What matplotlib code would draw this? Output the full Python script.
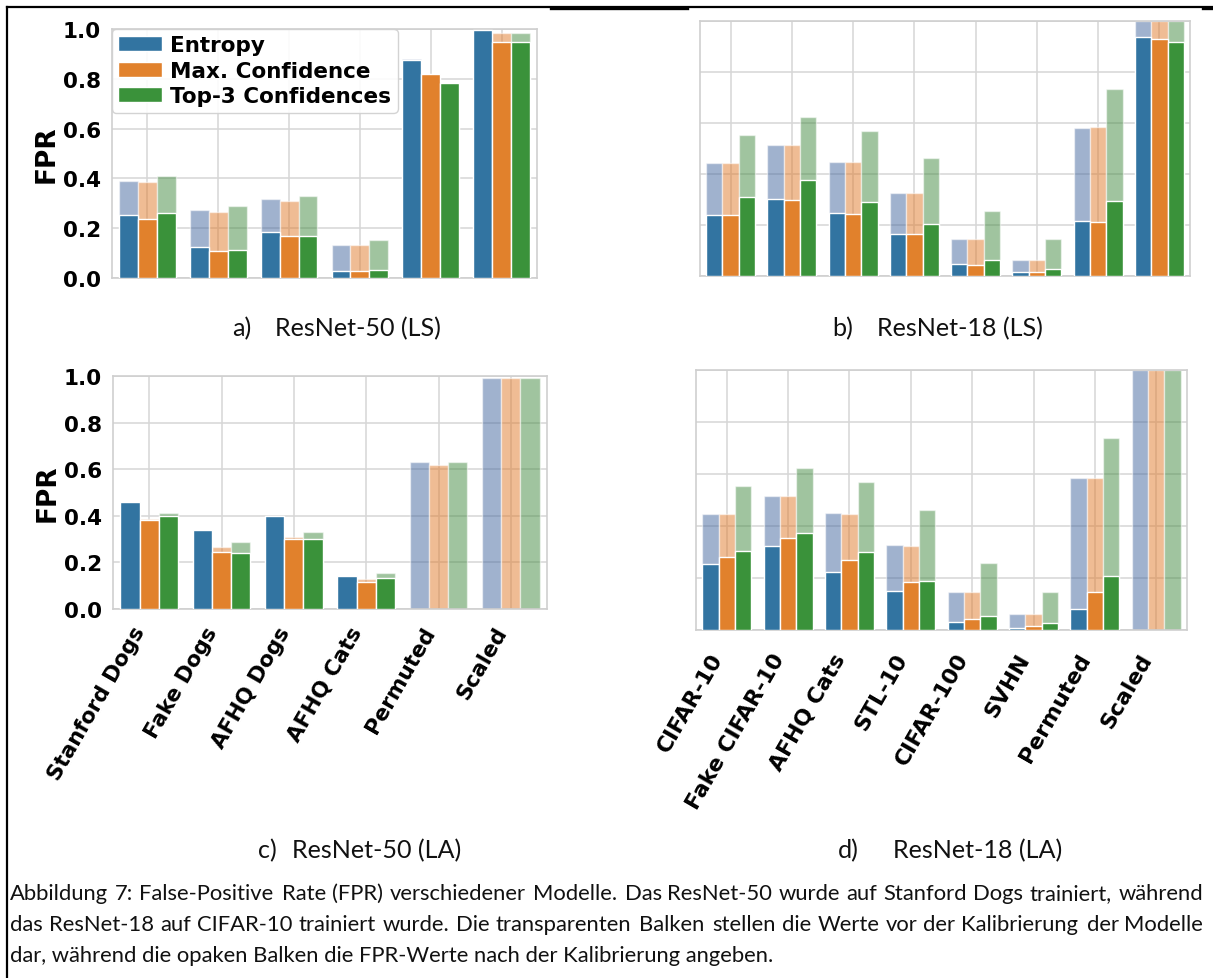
import numpy as np
import matplotlib
matplotlib.use("Agg")
import matplotlib.pyplot as plt
from matplotlib.lines import Line2D
from matplotlib.patches import Patch

# ---------------------------------------------------------------- data
methods = ["Entropy", "Max. Confidence", "Top-3 Confidences"]

r50_datasets = ["Stanford Dogs", "Fake Dogs", "AFHQ Dogs", "AFHQ Cats", "Permuted", "Scaled"]
r18_datasets = ["CIFAR-10", "Fake CIFAR-10", "AFHQ Cats", "STL-10", "CIFAR-100", "SVHN",
                "Permuted", "Scaled"]

# rows: Entropy, Max. Confidence, Top-3 Confidences
# ResNet-50 trained with label smoothing (LS)
r50_ls_before = [[0.391, 0.273, 0.316, 0.132, 0.878, 0.998],
                 [0.387, 0.264, 0.308, 0.131, 0.820, 0.984],
                 [0.411, 0.289, 0.331, 0.153, 0.785, 0.984]]
r50_ls_after = [[0.255, 0.123, 0.185, 0.028, 0.876, 0.995],
                [0.237, 0.108, 0.169, 0.027, 0.818, 0.947],
                [0.263, 0.112, 0.168, 0.031, 0.783, 0.949]]

# ResNet-18 trained with label smoothing (LS)
r18_ls_before = [[0.445, 0.515, 0.448, 0.325, 0.145, 0.061, 0.581, 1.0],
                 [0.445, 0.513, 0.447, 0.324, 0.145, 0.061, 0.583, 1.0],
                 [0.553, 0.624, 0.568, 0.461, 0.256, 0.147, 0.735, 1.0]]
r18_ls_after = [[0.241, 0.303, 0.247, 0.164, 0.047, 0.017, 0.216, 0.936],
                [0.239, 0.299, 0.244, 0.163, 0.045, 0.017, 0.212, 0.928],
                [0.309, 0.376, 0.292, 0.204, 0.064, 0.029, 0.293, 0.916]]

# ResNet-50 trained with LA
r50_la_before = [[0.458, 0.340, 0.399, 0.142, 0.630, 0.990],
                 [0.386, 0.265, 0.309, 0.129, 0.619, 0.990],
                 [0.412, 0.289, 0.331, 0.153, 0.630, 0.990]]
r50_la_after = [[0.458, 0.340, 0.399, 0.142, np.nan, np.nan],
                [0.384, 0.243, 0.299, 0.115, np.nan, np.nan],
                [0.399, 0.240, 0.302, 0.134, np.nan, np.nan]]

# ResNet-18 trained with LA
r18_la_before = [[0.447, 0.516, 0.450, 0.327, 0.146, 0.063, 0.583, 1.0],
                 [0.447, 0.515, 0.448, 0.325, 0.146, 0.063, 0.583, 1.0],
                 [0.554, 0.625, 0.570, 0.463, 0.256, 0.148, 0.737, 1.0]]
r18_la_after = [[0.252, 0.323, 0.224, 0.149, 0.031, 0.009, 0.080, np.nan],
                [0.282, 0.354, 0.271, 0.186, 0.042, 0.016, 0.146, np.nan],
                [0.303, 0.375, 0.301, 0.188, 0.052, 0.027, 0.209, np.nan]]

yticks = [0.0, 0.2, 0.4, 0.6, 0.8, 1.0]

subcaptions = [("a)", "ResNet-50 (LS)"), ("b)", "ResNet-18 (LS)"),
               ("c)", "ResNet-50 (LA)"), ("d)", "ResNet-18 (LA)")]
caption_lines = [
    "Abbildung 7: False-Positive Rate (FPR) verschiedener Modelle. Das ResNet-50 wurde auf Stanford Dogs trainiert, während",
    "das ResNet-18 auf CIFAR-10 trainiert wurde. Die transparenten Balken stellen die Werte vor der Kalibrierung der Modelle",
    "dar, während die opaken Balken die FPR-Werte nach der Kalibrierung angeben.",
]

# ---------------------------------------------------------------- style
W, H, DPI = 1213, 979, 100
after_colors = ["#3274a1", "#e1812c", "#3a923a"]
before_colors = ["#42679e", "#e07b2b", "#428b41"]
before_alpha = 0.5
grid_color = "#d6d6d6"
caption_font = "Lato"

plt.rcParams["font.family"] = ["DejaVu Sans"]
plt.rcParams["font.weight"] = "bold"

fig = plt.figure(figsize=(W / DPI, H / DPI), dpi=DPI)
renderer = fig.canvas.get_renderer()


def add_axes_px(left, top, right, bottom):
    return fig.add_axes([left / W, 1 - bottom / H, (right - left) / W, (bottom - top) / H])


def draw_panel(ax, labels, before, after, tick_fs, show_y, show_x, xpad):
    n = len(labels)
    x = np.arange(n)
    bw = 0.8 / 3
    for i in range(3):
        pos = x + (i - 1) * bw
        ax.bar(pos, before[i], width=bw, color=before_colors[i], alpha=before_alpha,
               edgecolor="white", linewidth=1.0, zorder=2)
        ax.bar(pos, after[i], width=bw, color=after_colors[i],
               edgecolor="white", linewidth=1.0, zorder=3)
    ax.set_xlim(-0.5, n - 0.5)
    ax.set_ylim(0, 1.0)
    ax.set_yticks(yticks)
    ax.set_xticks(x)
    ax.set_axisbelow(True)
    ax.grid(True, color=grid_color, linewidth=1.1)
    for s in ax.spines.values():
        s.set_color("#cfcfcf")
        s.set_linewidth(1.2)
    ax.tick_params(length=0, labelsize=tick_fs, pad=8)
    if show_y:
        ax.set_yticklabels([f"{v:.1f}" for v in yticks], fontweight="bold")
        ax.set_ylabel("FPR", fontsize=19, fontweight="bold", labelpad=2)
    else:
        ax.tick_params(labelleft=False)
    if show_x:
        ax.set_xticklabels(labels, rotation=60, ha="right", fontweight="bold",
                           fontsize=tick_fs)
        ax.tick_params(axis="x", pad=xpad)
    else:
        ax.tick_params(labelbottom=False)


ax_a = add_axes_px(112, 30, 537, 279)
ax_b = add_axes_px(700, 22, 1190, 277)
ax_c = add_axes_px(113, 377, 547, 610)
ax_d = add_axes_px(696, 371, 1187, 631)

draw_panel(ax_a, r50_datasets, r50_ls_before, r50_ls_after, 15.5, True, False, 0)
draw_panel(ax_b, r18_datasets, r18_ls_before, r18_ls_after, 15.5, False, False, 0)
draw_panel(ax_c, r50_datasets, r50_la_before, r50_la_after, 15.5, True, True, 10)
draw_panel(ax_d, r18_datasets, r18_la_before, r18_la_after, 15.8, False, True, 14)

handles = [Patch(facecolor=c, edgecolor="white", linewidth=1.0) for c in after_colors]
leg = ax_a.legend(handles, methods, loc="upper left", borderaxespad=0.0,
                  prop={"weight": "bold", "size": 15.5}, frameon=True,
                  fancybox=True, handlelength=2.0, labelspacing=0.25,
                  borderpad=0.3, handletextpad=0.4, framealpha=0.9)
leg.get_frame().set_edgecolor("#cfcfcf")
leg.get_frame().set_linewidth(1.0)
leg.set_zorder(10)


# ---------------------------------------------------------------- captions
def text_width(s, size):
    t = fig.text(0, 0, s, fontsize=size, family=caption_font)
    w = t.get_window_extent(renderer).width
    t.remove()
    return w


def put(xp, yp, s, size):
    fig.text(xp / W, 1 - yp / H, s, fontsize=size, family=caption_font,
             ha="left", va="baseline", color="#111111", fontweight="normal")


sub_fs = 10 * 168 / text_width(subcaptions[0][1], 10)
sub_pos = [(232, 275, 336), (832, 877, 336), (258, 292, 858), (838, 893, 858)]
for (tag, name), (xt, xn, yb) in zip(subcaptions, sub_pos):
    put(xt, yb, tag, sub_fs)
    put(xn, yb, name, sub_fs)

left_x, right_x = 10, 1205
fit_last = 10 * 780 / text_width(caption_lines[2], 10)
fit_first = 10 * (right_x - left_x) / text_width(caption_lines[0], 10)
cap_fs = 0.5 * (fit_last + min(fit_first, fit_last * 1.08))
baselines = [900, 931, 962]
for k, line in enumerate(caption_lines):
    yb = baselines[k]
    if k == len(caption_lines) - 1:
        put(left_x, yb, line, cap_fs)
        continue
    words = line.split(" ")
    widths = [text_width(w_, cap_fs) for w_ in words]
    gap = (right_x - left_x - sum(widths)) / (len(words) - 1)
    xcur = left_x
    for w_, wd in zip(words, widths):
        put(xcur, yb, w_, cap_fs)
        xcur += wd + gap

# page frame
frame = dict(color="black", linewidth=1.6, transform=fig.transFigure, clip_on=False)
fig.add_artist(Line2D([7 / W, 1.0], [1 - 8 / H, 1 - 8 / H], **frame))
fig.add_artist(Line2D([7 / W, 7 / W], [1 - 8 / H, 0.0], **frame))
fig.add_artist(Line2D([551 / W, 687 / W], [1 - 9 / H, 1 - 9 / H], color="black",
                      linewidth=2.4, transform=fig.transFigure))
fig.add_artist(Line2D([1203 / W, 1.0], [1 - 9 / H, 1 - 9 / H], color="black",
                      linewidth=2.4, transform=fig.transFigure))

fig.savefig("out.png", dpi=DPI)
